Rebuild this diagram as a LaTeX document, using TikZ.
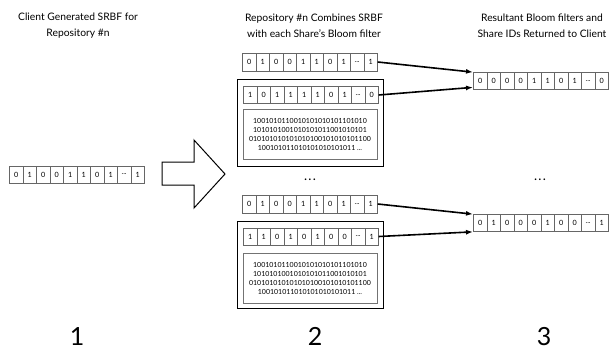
\documentclass[tikz,border=0pt]{standalone}
\usepackage{fontspec}
\setmainfont{Lato}
\usetikzlibrary{arrows.meta}

\newcommand\bitdots{...}
\tikzset{
  cell/.style={draw=black!60, line width=0.7pt, minimum width=13.5pt,
    inner sep=0pt, anchor=west, font=\fontsize{7.2}{8}\selectfont},
  frame/.style={draw=black, line width=1pt, inner sep=0pt},
  bitbox/.style={draw=black!55, line width=1pt, inner sep=0pt, align=center,
    font=\fontsize{7}{9}\selectfont},
  link/.style={line width=1.6pt, -{Latex[length=7pt,width=5pt]}},
  title/.style={align=center, font=\fontsize{10.3}{16}\selectfont},
  stagenum/.style={font=\fontsize{25}{26}\selectfont, inner sep=0pt, anchor=base},
  gap/.style={font=\bfseries\fontsize{11}{11}\selectfont},
  bigarrow/.style={draw=black, line width=1pt, fill=white, line join=miter}
}
% #1 name, #2 left x, #3 centre y, #4 height, #5 bits
\newcommand\bitarray[5]{%
  \foreach \b [count=\i] in {#5}{%
    \node[cell, minimum height=#4pt] (#1-\i) at ({#2+(\i-1)*13.5}, #3) {\b};}}
\newcommand\bitstream{1001010110010101010101101010\\
  1010101001010101011001010101\\
  010101010101010100101010101100\\
  100101011010101010101011 ...}

\begin{document}
\begin{tikzpicture}[x=1pt,y=-1pt]
\useasboundingbox (0,0) rectangle (616,349);

% column headings
\node[title] (h1) at (78,26) {Client Generated SRBF for\\Repository \#n};
\node[title] (h2) at (314,26) {Repository \#n Combines SRBF\\with each Share's Bloom filter};
\node[title] (h3) at (542,26) {Resultant Bloom filters and\\Share IDs Returned to Client};

% stage 1: the client's SRBF
\bitarray{L}{9}{174.5}{17}{0,1,0,0,1,1,0,1,\bitdots,1}
\draw[bigarrow] (162,162) -- (194,162) -- (194,140) -- (225,174)
  -- (194,208) -- (194,185) -- (162,185) -- cycle;

% stage 2: first share
\bitarray{A}{242}{62}{18}{0,1,0,0,1,1,0,1,\bitdots,1}
\node[frame, minimum width=146pt, minimum height=87pt] (F1) at (310,122.5) {};
\bitarray{B}{243}{95}{17}{1,0,1,1,1,1,0,1,\bitdots,0}
\node[bitbox, minimum width=134pt, minimum height=50pt] (T1) at (310,134) {\bitstream};

\node[gap] (g2) at (310,180) {.\,.\,.};

% stage 2: last share
\bitarray{C}{242}{204}{18}{0,1,0,0,1,1,0,1,\bitdots,1}
\node[frame, minimum width=146pt, minimum height=87pt] (F2) at (310,264.5) {};
\bitarray{D}{243}{236.5}{17}{1,1,0,1,0,1,0,0,\bitdots,1}
\node[bitbox, minimum width=134pt, minimum height=50pt] (T2) at (310,278) {\bitstream};

% stage 3: results
\bitarray{R}{473}{81}{17}{0,0,0,0,1,1,0,1,\bitdots,0}
\bitarray{S}{473}{223}{17}{0,1,0,0,0,1,0,0,\bitdots,1}
\node[gap] (g3) at (540,180) {.\,.\,.};

\draw[link] (A-10.east) -- (R-1.north west);
\draw[link] (B-10.east) -- ([yshift=2.5pt]R-1.south west);
\draw[link] (C-10.east) -- (S-1.north west);
\draw[link] (D-10.east) -- (S-1.south west);

% stage numbers
\node[stagenum] (n1) at (77,345) {1};
\node[stagenum] (n2) at (315,345) {2};
\node[stagenum] (n3) at (544,345) {3};
\end{tikzpicture}
\end{document}
